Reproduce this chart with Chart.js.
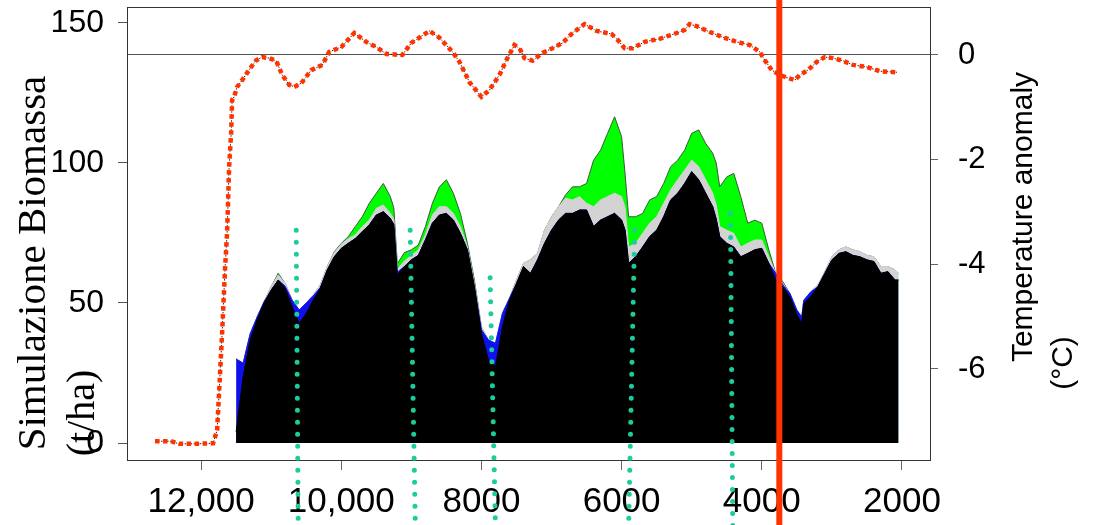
<!DOCTYPE html>
<html>
<head>
<meta charset="utf-8">
<script src="https://cdn.jsdelivr.net/npm/chart.js@4.4.1/dist/chart.umd.min.js"></script>
<style>
html,body{margin:0;padding:0;background:#fff;}
#wrap{width:1094px;height:525px;}
</style>
</head>
<body>
<div id="wrap"><canvas id="c" width="1094" height="525"></canvas></div>
<script>
// ---- data (years BP) ----
const years = [
  11500,11400,11300,11200,11100,11000,10900,10800,10700,10600,
  10500,10400,10300,10200,10100,10000,9900,9800,9700,9600,
  9500,9400,9300,9250,9200,9100,9000,8900,8800,8700,
  8600,8500,8400,8300,8200,8100,8000,7900,7800,7700,
  7600,7500,7400,7300,7200,7100,7000,6900,6800,6700,
  6600,6500,6400,6300,6200,6100,6000,5950,5900,5800,
  5700,5600,5500,5400,5300,5200,5100,5000,4900,4800,
  4700,4650,4600,4500,4400,4300,4200,4100,4000,3900,
  3800,3700,3600,3500,3430,3400,3300,3200,3100,3000,
  2900,2800,2700,2600,2500,2400,2300,2200,2100,2050
];
// cumulative biomass (t/ha): top of black layer
const biomassBlack = [
  4,23.7,36.8,44,50,54.6,58.2,55.2,48.7,42.7,
  46.3,51,55.2,61.8,66.5,69.5,71.3,73,75.5,77.9,
  81.4,82.6,80.2,78,60,63,65.4,67,72.5,78.5,
  81.4,82,79.6,74.9,69,55.8,39.2,29.6,27.3,41.5,
  51,57,63,60.6,65.4,71.3,76,79.6,82,82,
  83.2,83.2,77.3,79.6,80.8,82,79.6,76,64.2,66.5,
  70,73.7,76,80.8,86.8,89.2,92.7,96.9,94,89.2,
  84.4,80,73.7,71.3,70,66.5,67.7,69,69.5,64.2,
  58.2,55.8,52.3,46,42.7,49.9,52.3,55.8,60.6,65.4,
  67.7,68.3,67,66.5,65.4,64.8,60.6,61.2,58.2,58.2
];
// top of blue layer
const biomassBlue = [
  30,28.5,39,45,50.5,54.6,58.2,56,51,47.5,
  50,52.5,55.5,61.8,66.5,69.5,71.3,73,75.5,77.9,
  81.4,82.6,80.2,78,61,63,65.4,67,72.5,78.5,
  81.4,82,79.6,74.9,69,55.8,40.5,36.8,35.6,46.3,
  51.7,57,63,60.6,65.4,71.3,76,79.6,82,82,
  83.2,83.2,77.3,79.6,80.8,82,79.6,76,64.2,66.5,
  70,73.7,76,80.8,86.8,89.2,92.7,96.9,94,89.2,
  84.4,80,73.7,71.3,70,66.5,67.7,69,69.5,64.2,
  60.6,56.5,53.5,47.5,45,51,54,55.8,60.6,65.4,
  67.7,68.3,67,66.5,65.4,64.8,60.6,61.2,58.2,58.2
];
// top of grey layer
const biomassGrey = [
  30,28.5,39,45,50.5,55.8,60,57,51,47.5,
  50,52.8,56.4,63,68,71,73,74.3,77.3,79.6,
  83.8,85,82,80,62,65,67,69,74.3,81.4,
  84.4,84.4,82,77.3,70,57,41.5,36.8,35.6,46.3,
  51.7,58.2,64.2,65.4,67.7,76,80.8,84.4,87.4,86.8,
  88,85.6,84.4,86.8,88,89.2,88,84,70,71.3,
  74.9,78.5,80.8,85.6,90.4,94,97.5,101,98.7,94,
  89.2,85,77.3,76,74.9,70,71.3,72.5,72.5,66.5,
  60.6,57,53.5,47.5,45,51,54,56.4,61.2,66.5,
  69,70,69,68.3,67,66.5,63,63,61.8,60.6
];
// top of green layer (total)
const biomassGreen = [
  30,28.5,39,45,50.5,55.8,60.6,57,51,47.5,
  50,52.8,56.4,63,68.3,71.3,73.7,77.3,80.8,85.6,
  89.2,92.7,88,84,64,68,69,70.7,77.3,85.6,
  91.5,94,89.2,82,71.3,58.2,41.5,36.8,35.6,46.3,
  51.7,58.2,64.2,65.4,67.7,76,80.8,84.4,88.6,91.5,
  91.5,92.7,101,104.6,110.6,116.5,109.4,96,80.8,80.8,
  82,86.8,88,92.7,98.7,101,104.6,110.6,111.8,107,
  103.5,100,91.5,95,96.3,88,78.5,79.6,78.5,69,
  60.6,57.6,53.5,47.5,45,51,54,56.4,61.2,66.5,
  69,70,69,68.3,67,66.5,63,63,61.8,60.6
];
const tempYears = [
  12657,12429,12314,12100,11829,11771,11700,11657,11629,11614,
  11600,11571,11557,11529,11486,11414,11286,11214,11129,11029,
  10929,10843,10743,10671,10571,10429,10271,10171,10000,9814,
  9643,9500,9357,9129,9000,8886,8743,8600,8414,8314,
  8171,8000,7886,7743,7629,7529,7457,7386,7271,7129,
  6986,6843,6700,6529,6357,6143,6057,5957,5843,5671,
  5457,5214,5100,5029,4929,4743,4557,4357,4171,4029,
  3957,3857,3743,3629,3529,3457,3343,3214,3100,2986,
  2843,2700,2500,2314,2071
];
const tempAnomaly = [
  -7.38,-7.38,-7.43,-7.43,-7.42,-7.17,-5.32,-4.05,-3.40,-2.77,
  -2.14,-1.49,-0.86,-0.80,-0.61,-0.48,-0.23,-0.10,-0.04,-0.06,
  -0.11,-0.38,-0.57,-0.61,-0.54,-0.29,-0.19,0.06,0.15,0.42,
  0.25,0.15,0.02,0.00,0.23,0.33,0.46,0.33,0.06,-0.13,
  -0.52,-0.80,-0.67,-0.38,-0.06,0.19,0.13,-0.06,-0.11,0.04,
  0.13,0.23,0.42,0.59,0.46,0.40,0.29,0.13,0.13,0.25,
  0.31,0.42,0.48,0.59,0.55,0.44,0.34,0.25,0.19,0.06,
  -0.10,-0.29,-0.38,-0.44,-0.48,-0.38,-0.29,-0.13,-0.04,-0.06,
  -0.11,-0.19,-0.23,-0.31,-0.33
];
const xTickValues = [12000,10000,8000,6000,4000,2000];
const xTickLabels = ['12,000','10,000','8000','6000','4000','2000'];
const yTickValues = [0,50,100,150];
const y2TickValues = [0,-2,-4,-6];
// dotted event markers (years at top / bottom end, biomass at top end)
const markerTopYears = [10643,9017,7876,5814,4447];
const markerBottomYears = [10614,8943,7800,5900,4414];
const markerTopValues = [76,76,59,76,82];
const eventYear = 3750;

// ---- build datasets ----
const pts = (xs, ys) => xs.map((x, i) => ({x: x, y: ys[i]}));
const datasets = [];
datasets.push({
  data: [{x: eventYear, y: 170}, {x: eventYear, y: -30}],
  borderColor: '#ff3300', borderWidth: 6, clip: false, fill: false, yAxisID: 'y'
});
markerTopYears.forEach((yt, i) => {
  datasets.push({
    data: [{x: yt, y: markerTopValues[i]}, {x: markerBottomYears[i], y: -30}],
    borderColor: '#1dcc9c', borderWidth: 5, borderDash: [0, 12], borderCapStyle: 'round',
    clip: false, fill: false, yAxisID: 'y'
  });
});
datasets.push({
  data: pts(tempYears, tempAnomaly), yAxisID: 'y2',
  borderColor: '#ff3300', borderWidth: 4.5, borderDash: [4.5, 3.5], fill: false, clip: false
});
datasets.push({
  data: pts(tempYears, tempAnomaly), yAxisID: 'y2',
  borderColor: '#222', borderWidth: 1, borderDash: [1.5, 1.5], fill: false, clip: false
});
datasets.push({data: pts(years, biomassBlack), yAxisID: 'y', borderColor: '#000', borderWidth: 1, backgroundColor: '#000', fill: 'origin'});
datasets.push({data: pts(years, biomassBlue), yAxisID: 'y', borderColor: '#1010ee', borderWidth: 1, backgroundColor: '#1010ee', fill: 'origin'});
datasets.push({data: pts(years, biomassGrey), yAxisID: 'y', borderColor: '#d3d3d3', borderWidth: 1, backgroundColor: '#d3d3d3', fill: 'origin'});
datasets.push({data: pts(years, biomassGreen), yAxisID: 'y', borderColor: '#3a5a3a', borderWidth: 1, backgroundColor: '#00ff00', fill: 'origin'});

const titles = {
  id: 'titles',
  afterDraw(chart) {
    const ctx = chart.ctx;
    const rot = (text, x, y, font) => {
      ctx.save();
      ctx.translate(x, y);
      ctx.rotate(-Math.PI / 2);
      ctx.font = font;
      ctx.fillStyle = '#000';
      ctx.textAlign = 'center';
      ctx.textBaseline = 'alphabetic';
      ctx.fillText(text, 0, 0);
      ctx.restore();
    };
    rot('Simulazione Biomassa', 45, 263, '41px "Liberation Serif", "Times New Roman", serif');
    rot('(t/ha)', 94, 413, '40px "Liberation Serif", "Times New Roman", serif');
    rot('Temperature anomaly', 1032, 217, '30px "Liberation Sans", Arial, sans-serif');
    rot('(°C)', 1072, 363, '30px "Liberation Sans", Arial, sans-serif');
  }
};

Chart.defaults.font.family = '"Liberation Sans", Arial, sans-serif';
Chart.defaults.color = '#000';

const noPadV = s => { s.paddingTop = 0; s.paddingBottom = 0; };

new Chart(document.getElementById('c'), {
  type: 'line',
  data: {datasets: datasets},
  options: {
    responsive: false,
    animation: false,
    devicePixelRatio: 1,
    layout: {padding: {top: 7, left: 0, right: 0, bottom: 0}},
    plugins: {legend: {display: false}, tooltip: {enabled: false}},
    elements: {point: {radius: 0}, line: {tension: 0}},
    scales: {
      x: {
        type: 'linear', position: 'bottom', reverse: true, min: 1600, max: 13057,
        afterBuildTicks: s => { s.ticks = xTickValues.map(v => ({value: v})); },
        afterFit: s => { s.height = 65; s.paddingLeft = 0; s.paddingRight = 0; },
        ticks: {
          callback: v => xTickLabels[xTickValues.indexOf(v)],
          font: {size: 35}, color: '#000', padding: 11, maxRotation: 0, autoSkip: false
        },
        grid: {drawOnChartArea: false, drawTicks: true, tickLength: 10, tickColor: '#666'},
        border: {display: true, color: '#333', width: 1}
      },
      xTop: {
        type: 'linear', position: 'top', reverse: true, min: 1600, max: 13057,
        ticks: {display: false},
        grid: {display: false, drawTicks: false},
        border: {display: true, color: '#333', width: 1},
        afterFit: s => { s.height = 0; s.paddingLeft = 0; s.paddingRight = 0; }
      },
      y: {
        type: 'linear', position: 'left', min: -6.07, max: 155.71,
        afterBuildTicks: s => { s.ticks = yTickValues.map(v => ({value: v})); },
        afterFit: s => { s.width = 127; noPadV(s); },
        ticks: {font: {size: 32}, color: '#000', padding: 14},
        grid: {drawOnChartArea: false, drawTicks: true, tickLength: 9, tickColor: '#555'},
        border: {display: true, color: '#333', width: 1}
      },
      y2: {
        type: 'linear', position: 'right', min: -7.739, max: 0.917,
        afterBuildTicks: s => { s.ticks = y2TickValues.map(v => ({value: v})); },
        afterFit: s => { s.width = 164; noPadV(s); },
        ticks: {font: {size: 31}, color: '#000', padding: 20},
        grid: {
          drawOnChartArea: true, drawTicks: true, tickLength: 8, tickColor: '#666',
          color: c => (c.tick && c.tick.value === 0) ? '#555' : 'rgba(0,0,0,0)'
        },
        border: {display: true, color: '#333', width: 1}
      }
    }
  },
  plugins: [titles]
});
</script>
</body>
</html>
